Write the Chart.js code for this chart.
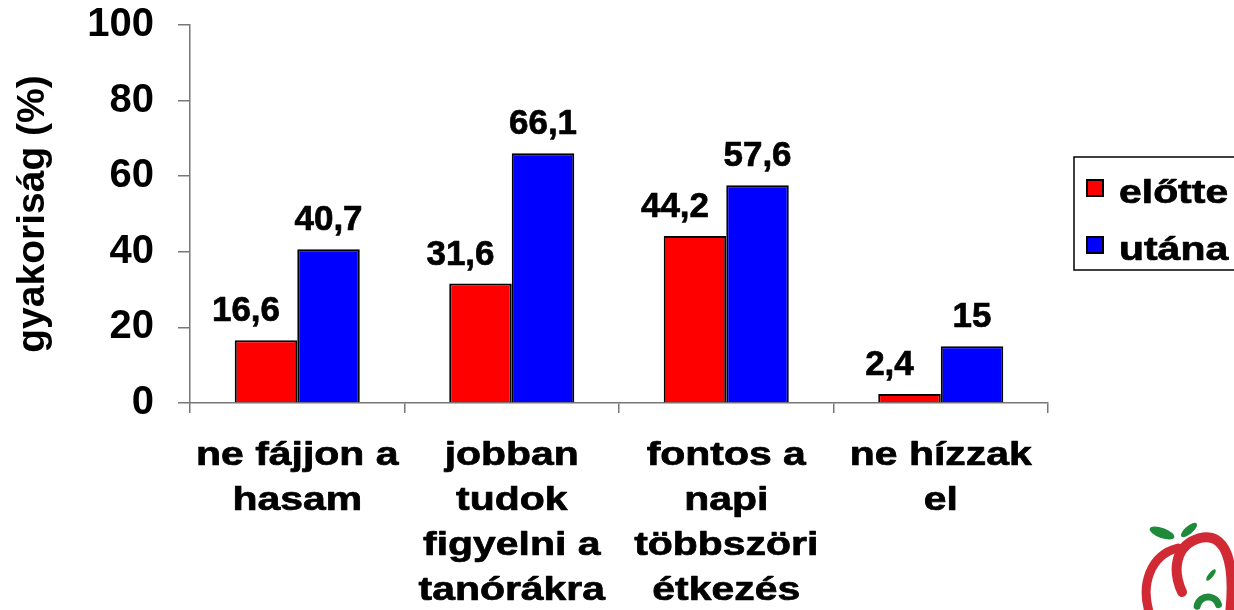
<!DOCTYPE html>
<html>
<head>
<meta charset="utf-8">
<script src="https://cdn.jsdelivr.net/npm/chart.js@4/dist/chart.umd.min.js"></script>
<style>
  html, body { margin: 0; padding: 0; background: #fff; }
</style>
</head>
<body>
<canvas id="chart" width="1234" height="610"></canvas>
<script>
// categories (multi-line labels), series and ticks
const categories = [
    ['ne fájjon a', 'hasam'],
    ['jobban', 'tudok', 'figyelni a', 'tanórákra'],
    ['fontos a', 'napi', 'többszöri', 'étkezés'],
    ['ne hízzak', 'el']
];
const seriesNames = ['előtte', 'utána'];
const elotte = [16.6, 31.6, 44.2, 2.4];
const utana = [40.7, 66.1, 57.6, 15];
const yTicks = [0, 20, 40, 60, 80, 100];
const yTitle = 'gyakoriság (%)';

const FONT = '"Liberation Sans", Arial, sans-serif';
const STRETCH = 1.24;   // the original text is horizontally widened

// slightly heavier text than plain bold
const baseFill = CanvasRenderingContext2D.prototype.fillText;
function heavyFill(c, text, x, y) {
    baseFill.call(c, text, x, y);
    c.save();
    c.strokeStyle = c.fillStyle;
    c.lineWidth = 0.7;
    c.lineJoin = 'round';
    c.strokeText(text, x, y);
    c.restore();
}

// fillText that widens the glyphs around the anchor point
function wideText(c, text, x, y) {
    c.save();
    c.translate(x, y);
    c.scale(STRETCH, 1);
    heavyFill(c, text, 0, 0);
    c.restore();
}

// value labels above the bars (comma decimal)
const labelShift = [-20, 0];
const valueLabels = {
    id: 'valueLabels',
    afterDatasetsDraw(chart) {
        const c = chart.ctx;
        c.save();
        c.font = 'bold 35px ' + FONT;
        c.fillStyle = '#000';
        c.textAlign = 'center';
        c.textBaseline = 'alphabetic';
        chart.data.datasets.forEach((ds, i) => {
            chart.getDatasetMeta(i).data.forEach((bar, j) => {
                heavyFill(c, String(ds.data[j]).replace('.', ','), bar.x + labelShift[i], bar.y - 19);
            });
        });
        c.restore();
    }
};

// boxed legend on the right, plus the little apple logo
const boxLegend = {
    id: 'boxLegend',
    afterDraw(chart) {
        const c = chart.ctx;
        c.save();
        c.lineWidth = 1.5;
        c.strokeStyle = '#000';
        c.strokeRect(1074, 157, 200, 113);
        c.font = 'bold 33px ' + FONT;
        c.textBaseline = 'alphabetic';
        c.textAlign = 'left';
        chart.data.datasets.forEach((ds, i) => {
            const y = 180 + i * 57;
            c.fillStyle = ds.backgroundColor;
            c.fillRect(1087, y, 16, 16);
            c.lineWidth = 2;
            c.strokeRect(1087, y, 16, 16);
            c.fillStyle = '#000';
            wideText(c, ds.label, 1119, y + 23);
        });
        c.restore();

        // logo (decorative)
        c.save();
        c.lineCap = 'round';
        c.strokeStyle = '#d12a35';
        c.lineWidth = 9;
        c.beginPath();
        c.moveTo(1150, 615);
        c.bezierCurveTo(1140, 585, 1150, 555, 1178, 548);
        c.stroke();
        c.lineWidth = 10;
        c.beginPath();
        c.moveTo(1182, 592);
        c.bezierCurveTo(1172, 570, 1175, 545, 1200, 538);
        c.bezierCurveTo(1225, 532, 1236, 560, 1230, 615);
        c.stroke();
        c.fillStyle = '#1f8a3a';
        c.beginPath();
        c.ellipse(1162, 533, 13, 5, 0.35, 0, Math.PI * 2);
        c.fill();
        c.beginPath();
        c.ellipse(1189, 530, 10, 4, -0.7, 0, Math.PI * 2);
        c.fill();
        c.beginPath();
        c.ellipse(1211, 575, 7, 2.5, -0.9, 0, Math.PI * 2);
        c.fill();
        c.strokeStyle = '#1f8a3a';
        c.lineWidth = 7;
        c.beginPath();
        c.arc(1208, 608, 11, Math.PI * 1.05, Math.PI * 1.9);
        c.stroke();
        c.restore();
    }
};

const ctx = document.getElementById('chart').getContext('2d');
const chart = new Chart(ctx, {
    type: 'bar',
    data: {
        labels: categories,
        datasets: [
            {
                label: seriesNames[0],
                data: elotte,
                backgroundColor: '#ff0000',
                borderColor: '#000',
                borderWidth: 2
            },
            {
                label: seriesNames[1],
                data: utana,
                backgroundColor: '#0000ff',
                borderColor: '#000',
                borderWidth: 2
            }
        ]
    },
    options: {
        responsive: false,
        animation: false,
        categoryPercentage: 0.583,
        barPercentage: 1,
        layout: {
            autoPadding: false,
            padding: { top: 25, right: 186, left: 0, bottom: 0 }
        },
        plugins: {
            legend: { display: false },
            tooltip: { enabled: false }
        },
        scales: {
            x: {
                afterFit: s => {
                    s.height = 207;
                    s.paddingLeft = 0;
                    s.paddingRight = 0;
                },
                grid: {
                    drawOnChartArea: false,
                    offset: true,
                    tickLength: 10,
                    color: '#777',
                    lineWidth: 1.5
                },
                border: { color: '#777', width: 1.5 },
                ticks: {
                    padding: 20,
                    color: '#000',
                    font: { family: FONT, size: 33, weight: 'bold', lineHeight: 1.37 }
                }
            },
            y: {
                min: 0,
                max: 100,
                afterFit: s => {
                    s.width = 190;
                    s.paddingTop = 0;
                    s.paddingBottom = 0;
                },
                afterBuildTicks: s => { s.ticks = yTicks.map(v => ({ value: v })); },
                grid: {
                    drawOnChartArea: false,
                    tickLength: 12,
                    color: '#777',
                    lineWidth: 1.5
                },
                border: { color: '#777', width: 1.5 },
                ticks: {
                    padding: 24,
                    color: '#000',
                    font: { family: FONT, size: 40, weight: 'bold' }
                },
                title: {
                    display: true,
                    text: yTitle,
                    color: '#000',
                    padding: { top: 10, bottom: 0 },
                    font: { family: FONT, size: 39, weight: 'bold' }
                }
            }
        }
    },
    plugins: [valueLabels, boxLegend]
});

// x category labels drawn widened, y labels/title a bit heavier
const xs = chart.scales.x;
const drawXLabels = xs.drawLabels.bind(xs);
xs.drawLabels = function (area) {
    const c = this.ctx;
    c.fillText = function (text, x, y) { wideText(c, text, x, y); };
    drawXLabels(area);
    delete c.fillText;
};
const ys = chart.scales.y;
const drawYScale = ys.draw.bind(ys);
ys.draw = function (area) {
    const c = this.ctx;
    c.fillText = function (text, x, y) { heavyFill(c, text, x, y); };
    drawYScale(area);
    delete c.fillText;
};
chart.draw();
</script>
</body>
</html>
